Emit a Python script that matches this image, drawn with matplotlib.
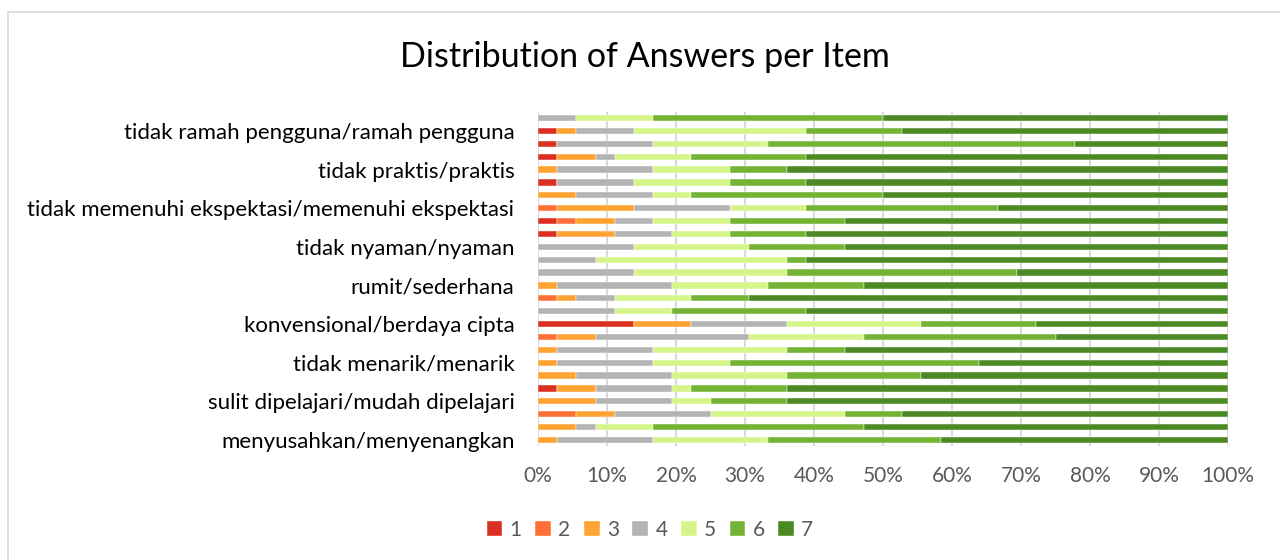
import numpy as np
import matplotlib
matplotlib.use("Agg")
import matplotlib.pyplot as plt
from matplotlib.lines import Line2D

plt.rcParams["font.family"] = ["Lato", "DejaVu Sans"]

# items 1..26 from bottom to top, only every third label is shown on the chart
item_labels = ["menyusahkan/menyenangkan", "", "",
               "sulit dipelajari/mudah dipelajari", "", "",
               "tidak menarik/menarik", "", "",
               "konvensional/berdaya cipta", "", "",
               "rumit/sederhana", "", "",
               "tidak nyaman/nyaman", "", "",
               "tidak memenuhi ekspektasi/memenuhi ekspektasi", "", "",
               "tidak praktis/praktis", "", "",
               "tidak ramah pengguna/ramah pengguna", ""]

# number of answers per scale value (1..7) for each item
a1 = [0, 0, 0, 0, 1, 0, 0, 0, 0, 5, 0, 0, 0, 0, 0, 0, 1, 1, 0, 0, 1, 0, 1, 1, 1, 0]
a2 = [0, 0, 2, 0, 0, 0, 0, 0, 1, 0, 0, 1, 0, 0, 0, 0, 0, 1, 1, 0, 0, 0, 0, 0, 0, 0]
a3 = [1, 2, 2, 3, 2, 2, 1, 1, 2, 3, 0, 1, 1, 0, 0, 0, 3, 2, 4, 2, 0, 1, 2, 0, 1, 0]
a4 = [5, 1, 5, 4, 4, 5, 5, 5, 8, 5, 4, 2, 6, 5, 3, 5, 3, 2, 5, 4, 4, 5, 1, 5, 3, 2]
a5 = [6, 3, 7, 2, 1, 6, 4, 7, 6, 7, 3, 4, 5, 8, 10, 6, 3, 4, 4, 2, 5, 4, 4, 6, 9, 4]
a6 = [9, 11, 3, 4, 5, 7, 13, 3, 10, 6, 7, 3, 5, 12, 1, 5, 4, 6, 10, 10, 4, 3, 6, 16, 5, 12]
a7 = [15, 19, 17, 23, 23, 16, 13, 20, 9, 10, 22, 25, 19, 11, 22, 20, 22, 20, 12, 18, 22, 23, 22, 8, 17, 18]

answers = ["1", "2", "3", "4", "5", "6", "7"]
colors = ["#DB3021", "#FF7038", "#FFA333", "#B4B4B4", "#D5F58A", "#74B333", "#4B8A22"]

counts = np.array([a1, a2, a3, a4, a5, a6, a7], dtype=float)
pct = counts / counts.sum(axis=0) * 100

fig = plt.figure(figsize=(12.8, 5.6), dpi=100)
ax = fig.add_axes([538 / 1280, 1 - 446.4 / 560, 690 / 1280, 334.8 / 560])

y = np.arange(len(item_labels))
left = np.zeros(len(item_labels))
for name, vals, c in zip(answers, pct, colors):
    ax.barh(y, vals, left=left, height=0.48, color=c, edgecolor="white",
            linewidth=0.3, label=name, zorder=3)
    left += vals

ax.set_xlim(0, 100)
ax.set_ylim(-0.5, len(item_labels) - 0.5)
ax.set_xticks(np.arange(0, 101, 10))
ax.set_xticklabels([f"{v}%" for v in range(0, 101, 10)])
shown = [i for i, s in enumerate(item_labels) if s]
ax.set_yticks(shown)
ax.set_yticklabels([item_labels[i] for i in shown])
ax.tick_params(axis="x", length=0, labelsize=15, labelcolor="#595959", pad=14)
ax.tick_params(axis="y", length=0, labelsize=16, labelcolor="#000000", pad=17)
ax.grid(axis="x", color="#D9D9D9", linewidth=1.5, zorder=0)
for s in ax.spines.values():
    s.set_visible(False)

fig.text(645 / 1280, 1 - 57 / 560, "Distribution of Answers per Item",
         ha="center", va="center", fontsize=24.5)

ax.legend(loc="center", bbox_to_anchor=(650 / 1280, 1 - 530 / 560),
          bbox_transform=fig.transFigure, ncol=7, frameon=False,
          fontsize=15, labelcolor="#595959", handlelength=0.75,
          handleheight=0.75, handletextpad=0.35, columnspacing=0.65)

# chart area border
fig.add_artist(Line2D([8 / 1280, 1], [1 - 12 / 560, 1 - 12 / 560],
                      color="#D9D9D9", linewidth=1.2))
fig.add_artist(Line2D([8 / 1280, 8 / 1280], [0, 1 - 12 / 560],
                      color="#D9D9D9", linewidth=1.2))

fig.savefig("out.png", dpi=100)
